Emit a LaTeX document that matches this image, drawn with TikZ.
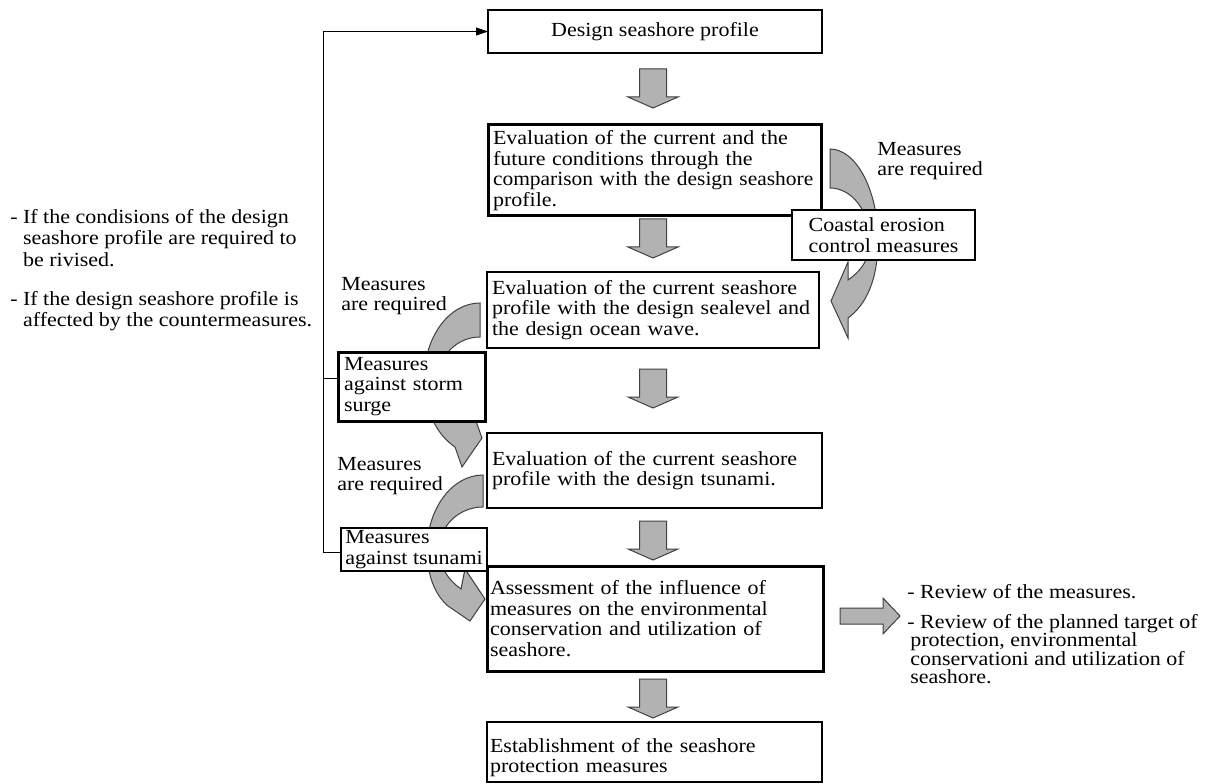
\documentclass[tikz,border=0pt]{standalone}
\usepackage{fontspec}
\setmainfont{Liberation Serif}[FakeStretch=1.1]
\usetikzlibrary{arrows.meta,calc}
\newcommand\bxfont{\fontsize{15pt}{15.4pt}\selectfont}
\newcommand\ltfont{\fontsize{15pt}{16.1pt}\selectfont}
\newcommand\rtfont{\fontsize{15pt}{13.9pt}\selectfont}
\begin{document}
\begin{tikzpicture}[x=0.75pt,y=-0.75pt,
  blk/.style={fill=black!30,draw=black!75,line width=0.75pt,line join=miter},
  box/.style={draw,fill=white,anchor=north west,line width=1.5pt,inner ysep=0pt,outer sep=0pt,font=\bxfont},
  thickbox/.style={box,line width=2.25pt},
  lbl/.style={anchor=north west,inner sep=0pt,align=left,font=\bxfont},
  fbline/.style={draw=black,line width=0.75pt},
  dnarrow/.pic={\draw[blk] (-13.5,0) -- (13.5,0) -- (13.5,28) -- (25,28) -- (0,39) -- (-25,28) -- (-13.5,28) -- cycle;}
]
\useasboundingbox (0,0) rectangle (1209,784);

% curved arrows (drawn first, boxes cover them)
\draw[blk] (830,149) .. controls (856,149) and (878,190) .. (878,240)
  .. controls (878,280) and (866,305) .. (848,318) -- (848,338) -- (831,301) -- (848,262) -- (848,280)
  .. controls (858,273) and (870,262) .. (870,240) .. controls (870,212) and (852,188) .. (830,188) -- cycle;
\draw[blk] (480,303) .. controls (449,303) and (424,337) .. (424,380)
  .. controls (424,410) and (437,435) .. (455,447) -- (462,467) -- (482,438) -- (472,410) -- (468,421)
  .. controls (450,412) and (438,398) .. (438,380) .. controls (438,356) and (457,337) .. (480,337) -- cycle;
\draw[blk] (483,475) .. controls (452,475) and (427,509) .. (427,550)
  .. controls (427,575) and (435,595) .. (448,606) -- (470,621) -- (485,599) -- (465,569) -- (461,589)
  .. controls (448,580) and (439,566) .. (439,550) .. controls (439,526) and (459,507) .. (483,507) -- cycle;

% boxes
\node[box,minimum width=250.5pt,minimum height=32.25pt,align=center] (b1) at (488,10) {Design seashore profile};
\node[thickbox,minimum width=249.75pt,minimum height=68.25pt,inner xsep=3.75pt,text width=242.25pt,align=left] (b2) at (488,125)
  {Evaluation of the current and the\\future conditions through the\\\scalebox{0.975}[1]{comparison with the design seashore}\\profile.};
\node[box,minimum width=249pt,minimum height=57pt,inner xsep=3.75pt,text width=241.5pt,align=left] (b3) at (487,272)
  {Evaluation of the current seashore\\\mbox{profile with the design sealevel and}\\the design ocean wave.};
\node[box,minimum width=251.25pt,minimum height=56.25pt,inner xsep=3.75pt,text width=243.75pt,align=left] (b4) at (487,433)
  {Evaluation of the current seashore\\profile with the design tsunami.};
\node[thickbox,minimum width=252pt,minimum height=78.75pt,inner xsep=2.25pt,text width=247.5pt,align=left] (b5) at (487,566)
  {Assessment of the influence of\\measures on the environmental\\conservation and utilization of\\seashore.};
\node[box,minimum width=251.25pt,minimum height=45pt,inner xsep=2.25pt,text width=246.75pt,align=left] (b6) at (487,722)
  {\rule{0pt}{19pt}Establishment of the seashore\\protection measures};
\node[thickbox,minimum width=110.25pt,minimum height=51.75pt,inner xsep=4.5pt,text width=101.25pt,align=left] (storm) at (338,352)
  {Measures\\against storm\\surge};
\node[box,minimum width=109.5pt,minimum height=32.25pt,inner xsep=0pt,align=left] (tsu) at (341,528)
  {Measures\\against tsunami};
\node[box,minimum width=137.25pt,minimum height=37.5pt,inner xsep=0pt,align=left] (coast) at (792,210)
  {Coastal erosion\\control measures};

% straight block arrows
\pic at ($(b1.south)+(-2,16)$) {dnarrow};
\pic at ($(b2.south)+(-1.5,3)$) {dnarrow};
\pic at ($(b3.south)+(0,21)$) {dnarrow};
\pic at ($(b4.south)+(-1.5,13)$) {dnarrow};
\pic at ($(b5.south)+(-2,8)$) {dnarrow};
\draw[blk] ($(b5.east)+(17,-10.5)$) -- ++(43,0) -- ++(0,-10) -- ++(17,18) -- ++(-17,18) -- ++(0,-10) -- ++(-43,0) -- cycle;

% labels
\node[lbl] (mr1) at (877,142) {Measures\\are required};
\node[lbl] (mr2) at (341,277) {Measures\\are required};
\node[lbl] (mr3) at (337,457) {Measures\\are required};

\node[lbl,font=\ltfont] (lt1) at (10,209) {- If the condisions of the design\\\hspace*{9.6pt}seashore profile are required to\\\hspace*{9.6pt}be rivised.};
\node[lbl,font=\ltfont] (lt2) at (10,291) {- If the design seashore profile is\\\hspace*{9.6pt}affected by the countermeasures.};
\node[lbl,font=\rtfont] (rt1) at (907,584) {- Review of the measures.};
\node[lbl,font=\rtfont] (rt2) at (907,614) {- Review of the planned target of\\\hspace*{2.25pt}protection, environmental\\\hspace*{2.25pt}conservationi and utilization of\\\hspace*{2.25pt}seashore.};

% feedback connector
\coordinate (fb) at (323,0);
\coordinate (tsuc) at ($(tsu.south west)!0.42!(tsu.north west)$);
\coordinate (stc) at ($(storm.south west)!0.61!(storm.north west)$);
\draw[fbline,-{Triangle[length=9pt,width=6pt]}] (tsuc) -- (tsuc -| fb) |- (b1.west);
\draw[fbline] (stc) -- (stc -| fb);
\end{tikzpicture}
\end{document}
